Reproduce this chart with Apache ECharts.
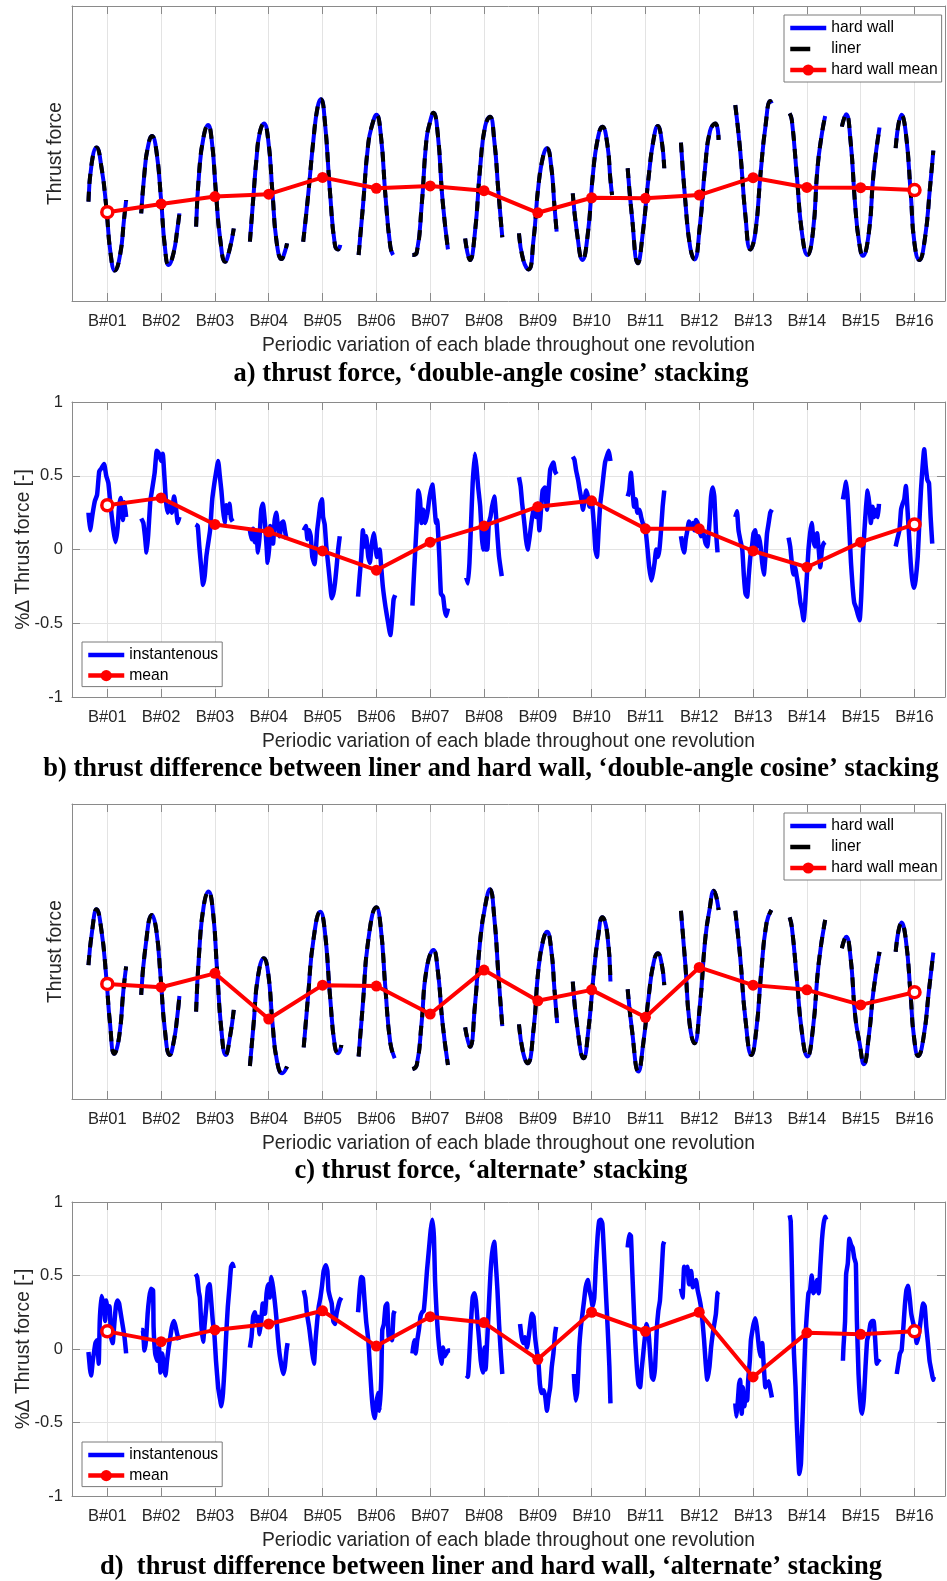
<!DOCTYPE html>
<html>
<head>
<meta charset="utf-8">
<title>Thrust force per blade</title>
<script src="https://cdn.jsdelivr.net/npm/echarts@6.0.0/dist/echarts.min.js"></script>
<style>
  html, body { margin: 0; padding: 0; background: #fff; }
  #chart { width: 947px; height: 1581px; }
</style>
</head>
<body>
<div id="chart"></div>
<script>
// blade tick labels
const blades = ['B#01', 'B#02', 'B#03', 'B#04', 'B#05', 'B#06', 'B#07', 'B#08',
  'B#09', 'B#10', 'B#11', 'B#12', 'B#13', 'B#14', 'B#15', 'B#16'];

// each blade: [phase offset from the blade tick, values]
// a) thrust force, double-angle cosine stacking (arbitrary units 0-100)
const hardWallA = [
  [[-0.35, -0.29, -0.20, -0.11, -0.02, 0.06, 0.14, 0.24, 0.31, 0.35], [33.7, 46.7, 52.0, 45.5, 32.0, 16.2, 10.3, 15.9, 27.5, 34.2]],
  [[-0.37, -0.31, -0.25, -0.17, -0.09, 0, 0.07, 0.14, 0.23, 0.30, 0.34], [29.7, 43.3, 51.8, 55.9, 51.2, 34.2, 18.4, 12.2, 16.2, 24.1, 29.7]],
  [[-0.35, -0.29, -0.21, -0.13, -0.06, 0.02, 0.10, 0.19, 0.27, 0.35], [25.2, 44.4, 55.7, 59.7, 54.6, 36.5, 20.7, 13.3, 17.3, 24.6]],
  [[-0.35, -0.29, -0.23, -0.17, -0.09, -0.01, 0.07, 0.15, 0.24, 0.30, 0.34], [20.1, 34.2, 47.8, 56.8, 60.2, 54.6, 36.5, 19.5, 14.2, 16.7, 19.5]],
  [[-0.36, -0.27, -0.17, -0.09, -0.03, 0.04, 0.14, 0.23, 0.29, 0.33], [20.1, 35.4, 54.6, 65.9, 68.4, 61.4, 36.5, 19.0, 17.5, 19.0]],
  [[-0.33, -0.25, -0.15, -0.07, 0, 0.08, 0.17, 0.26, 0.31], [15.6, 32.0, 53.4, 60.2, 63.1, 56.8, 35.4, 18.4, 15.6]],
  [[-0.33, -0.25, -0.16, -0.07, -0.01, 0.06, 0.14, 0.23, 0.33], [15.6, 16.4, 32.0, 54.6, 60.2, 63.8, 56.8, 34.2, 17.5]],
  [[-0.35, -0.26, -0.17, -0.07, 0.02, 0.11, 0.19, 0.27, 0.34], [21.2, 13.9, 22.9, 45.5, 59.1, 62.5, 54.6, 36.5, 21.6]],
  [[-0.35, -0.27, -0.17, -0.08, 0.01, 0.10, 0.17, 0.25, 0.31, 0.35], [22.9, 13.9, 10.7, 20.7, 38.8, 49.2, 51.8, 45.5, 32.0, 23.5]],
  [[-0.35, -0.27, -0.17, -0.07, 0.02, 0.11, 0.20, 0.29, 0.35, 0.38], [36.5, 22.9, 13.9, 22.9, 42.1, 54.6, 59.1, 53.4, 41.0, 35.9]],
  [[-0.33, -0.25, -0.14, -0.05, 0.06, 0.15, 0.23, 0.30, 0.35], [45.0, 28.6, 12.8, 22.9, 42.1, 54.6, 59.3, 54.6, 45.0]],
  [[-0.34, -0.26, -0.17, -0.09, 0.01, 0.11, 0.20, 0.30, 0.36], [53.7, 34.2, 18.4, 14.1, 25.2, 45.5, 57.6, 60.2, 54.6]],
  [[-0.33, -0.24, -0.14, -0.05, 0.04, 0.14, 0.23, 0.32, 0.35], [66.4, 51.2, 28.6, 17.5, 22.9, 43.3, 59.1, 67.8, 67.0]],
  [[-0.32, -0.28, -0.19, -0.09, 0.01, 0.11, 0.20, 0.28, 0.34], [63.6, 61.4, 43.3, 22.9, 15.6, 22.9, 45.5, 56.8, 62.7]],
  [[-0.35, -0.27, -0.19, -0.10, -0.03, 0.04, 0.15, 0.24, 0.35], [59.1, 63.3, 54.6, 32.0, 20.1, 15.3, 22.9, 43.3, 58.8]],
  [[-0.35, -0.24, -0.16, -0.07, 0, 0.09, 0.19, 0.29, 0.35], [51.8, 63.1, 56.8, 36.5, 19.5, 13.9, 20.7, 38.8, 51.0]]
];
const linerA = hardWallA; // liner trace sits on the hard wall trace at this scale
const meanA = [30.1, 32.9, 35.4, 36.2, 41.9, 38.2, 39.0, 37.4, 29.9, 35.0, 34.8, 35.9, 41.8, 38.5, 38.4, 37.6];

// b) % difference liner vs hard wall, double-angle cosine stacking
const instB = [
  [[-0.35, -0.32, -0.27, -0.23, -0.19, -0.15, -0.11, -0.06, -0.02, 0.02, 0.06, 0.11, 0.15, 0.19, 0.22, 0.25, 0.29, 0.32, 0.35],
   [0.25, 0.13, 0.25, 0.33, 0.37, 0.53, 0.55, 0.58, 0.5, 0.45, 0.3, 0.14, 0.05, 0.14, 0.3, 0.35, 0.2, 0.32, 0.22]],
  [[-0.37, -0.33, -0.30, -0.27, -0.24, -0.20, -0.17, -0.12, -0.08, -0.04, 0, 0.03, 0.06, 0.09, 0.12, 0.17, 0.20, 0.24, 0.28, 0.31, 0.34],
   [0.21, 0.18, 0.09, -0.02, 0.1, 0.33, 0.4, 0.52, 0.67, 0.65, 0.6, 0.65, 0.5, 0.33, 0.25, 0.3, 0.25, 0.36, 0.27, 0.18, 0.22]],
  [[-0.36, -0.32, -0.29, -0.25, -0.22, -0.19, -0.16, -0.13, -0.09, -0.05, -0.01, 0.02, 0.06, 0.09, 0.12, 0.15, 0.18, 0.21, 0.24, 0.27, 0.30, 0.33],
   [0.17, 0.16, 0.02, -0.14, -0.24, -0.18, -0.05, 0.03, 0.13, 0.34, 0.45, 0.52, 0.6, 0.5, 0.4, 0.27, 0.18, 0.3, 0.25, 0.31, 0.21, 0.19]],
  [[-0.35, -0.32, -0.29, -0.26, -0.23, -0.20, -0.17, -0.14, -0.11, -0.07, -0.04, -0.02, 0.01, 0.03, 0.06, 0.08, 0.11, 0.14, 0.17, 0.20, 0.24, 0.27, 0.30, 0.33],
   [0.13, 0.07, 0.14, 0.05, 0.11, -0.02, 0.09, 0.27, 0.31, 0.18, 0.02, -0.09, 0.02, 0.16, 0.11, 0.04, 0.2, 0.25, 0.16, 0.09, 0.18, 0.19, 0.13, 0.07]],
  [[-0.35, -0.31, -0.28, -0.25, -0.22, -0.19, -0.15, -0.12, -0.10, -0.07, -0.04, -0.01, 0.01, 0.04, 0.07, 0.11, 0.14, 0.17, 0.20, 0.23, 0.26, 0.29, 0.32],
   [0.13, 0.16, 0.07, 0.13, 0.09, -0.05, -0.1, 0.02, 0.13, 0.22, 0.31, 0.34, 0.22, 0.17, 0.02, -0.12, -0.23, -0.33, -0.3, -0.23, -0.12, 0.0, 0.09]],
  [[-0.34, -0.31, -0.28, -0.25, -0.22, -0.19, -0.15, -0.12, -0.09, -0.05, -0.02, 0.01, 0.06, 0.09, 0.12, 0.17, 0.22, 0.26, 0.29, 0.32, 0.35],
   [-0.32, -0.18, -0.05, 0.13, 0.02, 0.09, -0.05, -0.09, 0.02, 0.11, 0.04, -0.05, 0.0, -0.12, -0.25, -0.39, -0.5, -0.58, -0.48, -0.34, -0.31]],
  [[-0.33, -0.30, -0.25, -0.22, -0.19, -0.16, -0.13, -0.09, -0.05, -0.01, 0.04, 0.07, 0.11, 0.13, 0.17, 0.20, 0.24, 0.27, 0.30, 0.33],
   [-0.38, -0.16, 0.18, 0.4, 0.34, 0.18, 0.27, 0.18, 0.25, 0.36, 0.44, 0.34, 0.18, 0.2, -0.05, -0.3, -0.32, -0.41, -0.45, -0.4]],
  [[-0.33, -0.30, -0.27, -0.24, -0.21, -0.17, -0.14, -0.11, -0.07, -0.04, -0.02, 0, 0.03, 0.06, 0.09, 0.12, 0.15, 0.19, 0.22, 0.25, 0.28, 0.33],
   [-0.19, -0.23, -0.09, 0.18, 0.45, 0.65, 0.56, 0.43, 0.29, 0.09, 0.0, 0.16, 0.0, 0.0, 0.18, 0.22, 0.29, 0.36, 0.25, 0.09, -0.05, -0.18]],
  [[-0.35, -0.32, -0.29, -0.25, -0.22, -0.19, -0.15, -0.12, -0.09, -0.06, -0.03, 0, 0.03, 0.06, 0.09, 0.13, 0.17, 0.20, 0.23, 0.26, 0.29, 0.32, 0.35],
   [0.49, 0.43, 0.31, 0.18, 0.07, 0.0, 0.09, 0.18, 0.25, 0.29, 0.22, 0.31, 0.13, 0.27, 0.4, 0.42, 0.27, 0.4, 0.54, 0.57, 0.59, 0.53, 0.51]],
  [[-0.35, -0.32, -0.29, -0.25, -0.22, -0.19, -0.16, -0.13, -0.10, -0.07, -0.04, 0, 0.04, 0.07, 0.10, 0.13, 0.16, 0.19, 0.22, 0.25, 0.29, 0.32, 0.35],
   [0.63, 0.61, 0.54, 0.47, 0.4, 0.34, 0.27, 0.34, 0.4, 0.36, 0.29, 0.33, 0.18, 0.0, -0.05, 0.13, 0.31, 0.4, 0.5, 0.59, 0.64, 0.67, 0.6]],
  [[-0.33, -0.30, -0.27, -0.24, -0.21, -0.18, -0.15, -0.11, -0.08, -0.05, -0.02, 0.01, 0.04, 0.07, 0.11, 0.14, 0.17, 0.20, 0.23, 0.26, 0.29, 0.32, 0.35],
   [0.36, 0.4, 0.52, 0.4, 0.29, 0.34, 0.25, 0.27, 0.22, 0.18, 0.16, 0.11, 0.0, -0.12, -0.21, -0.16, -0.09, 0.0, -0.05, 0.0, 0.13, 0.29, 0.4]],
  [[-0.34, -0.31, -0.28, -0.25, -0.22, -0.19, -0.15, -0.12, -0.09, -0.06, -0.03, 0, 0.03, 0.06, 0.09, 0.12, 0.15, 0.19, 0.22, 0.25, 0.28, 0.31, 0.34],
   [0.09, 0.02, -0.02, 0.07, 0.13, 0.19, 0.16, 0.18, 0.13, 0.2, 0.18, 0.13, 0.09, 0.13, 0.09, 0.04, 0.02, 0.18, 0.36, 0.42, 0.36, 0.13, -0.02]],
  [[-0.33, -0.30, -0.27, -0.24, -0.20, -0.17, -0.14, -0.11, -0.08, -0.05, -0.02, 0.01, 0.04, 0.07, 0.11, 0.14, 0.17, 0.20, 0.23, 0.26, 0.29, 0.32, 0.35],
   [0.22, 0.26, 0.13, 0.07, 0.0, -0.18, -0.3, -0.32, -0.18, -0.05, 0.02, 0.11, 0.13, 0.02, 0.09, 0.02, -0.09, -0.17, -0.05, 0.11, 0.18, 0.25, 0.27]],
  [[-0.34, -0.31, -0.28, -0.25, -0.22, -0.19, -0.15, -0.12, -0.09, -0.06, -0.03, 0, 0.03, 0.06, 0.09, 0.12, 0.15, 0.19, 0.22, 0.25, 0.28, 0.31, 0.34],
   [0.08, 0.02, -0.09, -0.17, -0.12, -0.18, -0.27, -0.36, -0.41, -0.48, -0.36, -0.18, 0.0, 0.11, 0.18, 0.07, 0.02, 0.11, 0.0, -0.12, 0.0, 0.04, 0.05]],
  [[-0.33, -0.30, -0.27, -0.24, -0.21, -0.18, -0.15, -0.12, -0.09, -0.06, -0.02, 0.01, 0.04, 0.07, 0.10, 0.13, 0.16, 0.19, 0.22, 0.25, 0.29, 0.32, 0.34],
   [0.34, 0.4, 0.46, 0.34, 0.13, -0.09, -0.25, -0.36, -0.39, -0.43, -0.48, -0.32, -0.05, 0.13, 0.29, 0.4, 0.31, 0.18, 0.29, 0.22, 0.27, 0.22, 0.31]],
  [[-0.35, -0.32, -0.28, -0.25, -0.22, -0.19, -0.16, -0.13, -0.10, -0.07, -0.04, -0.01, 0.02, 0.06, 0.09, 0.12, 0.15, 0.18, 0.21, 0.24, 0.27, 0.30, 0.33],
   [0.02, 0.07, 0.13, 0.27, 0.31, 0.34, 0.43, 0.27, 0.09, -0.09, -0.21, -0.26, -0.21, -0.05, 0.18, 0.4, 0.56, 0.68, 0.56, 0.47, 0.45, 0.22, 0.04]]
];
const meanB = [0.30, 0.35, 0.17, 0.12, -0.01, -0.14, 0.05, 0.16, 0.29, 0.33, 0.14, 0.14, -0.01, -0.12, 0.05, 0.17];

// c) thrust force, alternate stacking (arbitrary units 0-100)
const hardWallC = [
  [[-0.35, -0.28, -0.20, -0.11, -0.02, 0.05, 0.13, 0.22, 0.30, 0.35], [45.4, 57.3, 64.3, 57.3, 41.5, 25.7, 15.3, 21.1, 37.0, 44.9]],
  [[-0.37, -0.29, -0.17, -0.09, -0.01, 0.07, 0.16, 0.24, 0.30, 0.34], [35.3, 51.6, 62.4, 57.3, 41.5, 23.4, 14.9, 20.0, 27.9, 34.9]],
  [[-0.35, -0.29, -0.21, -0.12, -0.04, 0.04, 0.12, 0.20, 0.28, 0.35], [29.6, 50.5, 65.2, 70.3, 64.1, 43.7, 23.4, 14.9, 21.1, 30.2]],
  [[-0.35, -0.28, -0.20, -0.09, -0.01, 0.07, 0.15, 0.25, 0.34], [11.2, 25.7, 41.5, 47.7, 42.6, 25.7, 13.2, 8.7, 11.0]],
  [[-0.35, -0.27, -0.17, -0.04, 0.04, 0.14, 0.23, 0.29, 0.35], [17.5, 34.7, 53.9, 63.5, 57.3, 34.7, 17.7, 15.5, 18.3]],
  [[-0.33, -0.25, -0.15, 0, 0.08, 0.17, 0.26, 0.34], [14.4, 32.4, 53.9, 65.0, 58.4, 37.0, 18.9, 13.8]],
  [[-0.33, -0.25, -0.16, -0.07, 0.06, 0.14, 0.23, 0.33], [10.1, 11.5, 25.7, 43.7, 50.5, 43.7, 25.7, 11.5]],
  [[-0.35, -0.26, -0.17, -0.07, 0.02, 0.11, 0.19, 0.27, 0.34], [24.3, 17.7, 31.3, 53.9, 65.2, 71.1, 61.8, 41.5, 24.7]],
  [[-0.35, -0.27, -0.19, -0.08, 0.01, 0.10, 0.17, 0.25, 0.31, 0.36], [25.3, 15.5, 12.1, 23.4, 43.7, 53.9, 56.7, 50.5, 37.0, 25.7]],
  [[-0.35, -0.26, -0.15, -0.06, 0.04, 0.12, 0.20, 0.29, 0.35], [39.8, 23.4, 13.8, 23.4, 42.6, 55.0, 61.6, 56.2, 39.8]],
  [[-0.33, -0.25, -0.13, -0.04, 0.06, 0.15, 0.23, 0.30, 0.35], [37.2, 23.4, 9.3, 18.9, 34.7, 46.0, 49.4, 46.0, 38.6]],
  [[-0.34, -0.26, -0.18, -0.09, 0.01, 0.11, 0.19, 0.27, 0.36], [63.8, 46.0, 25.7, 18.9, 31.3, 53.9, 64.1, 70.6, 64.1]],
  [[-0.33, -0.24, -0.14, -0.03, 0.06, 0.15, 0.25, 0.34], [63.8, 48.3, 26.8, 14.9, 23.4, 42.6, 59.6, 64.1]],
  [[-0.32, -0.28, -0.19, -0.09, 0.01, 0.11, 0.22, 0.34], [61.6, 58.4, 41.5, 22.3, 14.4, 23.4, 46.0, 60.7]],
  [[-0.35, -0.27, -0.19, -0.10, -0.02, 0.06, 0.15, 0.24, 0.35], [51.1, 55.0, 48.3, 27.9, 18.9, 11.8, 21.1, 37.0, 49.9]],
  [[-0.35, -0.24, -0.16, -0.07, -0.01, 0.07, 0.17, 0.27, 0.35], [49.9, 59.8, 53.9, 34.7, 21.1, 14.6, 21.1, 37.0, 49.6]]
];
const linerC = hardWallC;
const meanC = [39.0, 37.9, 42.6, 27.1, 38.6, 38.3, 28.8, 43.7, 33.3, 37.0, 27.7, 44.6, 38.6, 37.0, 31.9, 36.2];

// d) % difference liner vs hard wall, alternate stacking
const instD = [
  [[-0.35, -0.32, -0.30, -0.27, -0.25, -0.22, -0.19, -0.16, -0.14, -0.11, -0.07, -0.04, -0.02, 0.01, 0.04, 0.07, 0.10, 0.13, 0.16, 0.19, 0.22, 0.25, 0.29, 0.32, 0.35],
   [-0.02, -0.14, -0.18, -0.08, -0.03, 0.04, 0.06, -0.1, 0.19, 0.36, 0.31, 0.19, 0.33, 0.26, 0.29, 0.08, 0.04, 0.17, 0.29, 0.33, 0.31, 0.24, 0.15, 0.08, -0.03]],
  [[-0.37, -0.34, -0.31, -0.28, -0.25, -0.22, -0.19, -0.15, -0.14, -0.11, -0.07, -0.04, -0.01, 0.02, 0.05, 0.08, 0.11, 0.14, 0.17, 0.20, 0.24, 0.27, 0.30, 0.33],
   [0.13, 0.13, -0.01, 0.06, 0.24, 0.35, 0.41, 0.4, 0.15, -0.03, -0.08, 0.01, -0.16, -0.03, -0.12, -0.18, -0.08, 0.01, 0.08, 0.15, 0.19, 0.15, 0.1, 0.06]],
  [[-0.36, -0.33, -0.30, -0.28, -0.25, -0.22, -0.19, -0.16, -0.13, -0.10, -0.07, -0.04, -0.01, 0.02, 0.06, 0.09, 0.12, 0.15, 0.18, 0.21, 0.24, 0.27, 0.30, 0.33, 0.35],
   [0.51, 0.49, 0.39, 0.35, 0.15, 0.05, 0.17, 0.29, 0.42, 0.44, 0.33, 0.19, 0.1, -0.08, -0.26, -0.33, -0.39, -0.3, -0.12, 0.1, 0.29, 0.42, 0.56, 0.58, 0.55]],
  [[-0.35, -0.32, -0.29, -0.26, -0.23, -0.20, -0.17, -0.14, -0.11, -0.07, -0.04, -0.01, 0.02, 0.05, 0.08, 0.11, 0.14, 0.17, 0.20, 0.24, 0.27, 0.30, 0.33, 0.35],
   [0.01, 0.08, 0.22, 0.25, 0.19, 0.22, 0.1, 0.19, 0.31, 0.24, 0.38, 0.44, 0.35, 0.49, 0.42, 0.33, 0.22, 0.08, -0.03, -0.12, -0.17, -0.12, -0.01, 0.04]],
  [[-0.35, -0.32, -0.29, -0.25, -0.22, -0.19, -0.16, -0.13, -0.10, -0.07, -0.04, -0.01, 0.02, 0.06, 0.09, 0.11, 0.14, 0.17, 0.20, 0.23, 0.26, 0.29, 0.32, 0.35],
   [0.4, 0.35, 0.24, 0.15, 0.06, -0.03, -0.1, 0.06, 0.19, 0.29, 0.35, 0.43, 0.53, 0.57, 0.53, 0.4, 0.35, 0.31, 0.19, 0.17, 0.24, 0.29, 0.33, 0.35]],
  [[-0.34, -0.31, -0.28, -0.25, -0.22, -0.19, -0.15, -0.12, -0.09, -0.06, -0.03, 0, 0.03, 0.06, 0.09, 0.11, 0.14, 0.17, 0.20, 0.23, 0.26, 0.29, 0.32, 0.34],
   [0.25, 0.4, 0.49, 0.48, 0.33, 0.19, 0.06, -0.12, -0.3, -0.42, -0.47, -0.37, -0.3, -0.42, -0.21, 0.13, 0.17, 0.29, 0.31, 0.08, 0.1, 0.06, 0.24, 0.26]],
  [[-0.33, -0.30, -0.27, -0.24, -0.21, -0.18, -0.15, -0.12, -0.09, -0.06, -0.02, 0.01, 0.04, 0.07, 0.09, 0.12, 0.15, 0.18, 0.21, 0.24, 0.27, 0.30, 0.33, 0.37],
   [-0.03, 0.06, -0.03, 0.06, 0.13, 0.22, 0.25, 0.26, 0.38, 0.53, 0.69, 0.81, 0.88, 0.76, 0.47, 0.24, 0.08, -0.03, -0.1, 0.01, -0.05, -0.03, -0.01, -0.01]],
  [[-0.33, -0.30, -0.27, -0.24, -0.21, -0.18, -0.15, -0.12, -0.09, -0.06, -0.02, 0.01, 0.03, 0.06, 0.09, 0.12, 0.15, 0.19, 0.22, 0.25, 0.28, 0.31, 0.34],
   [-0.18, -0.19, -0.03, 0.19, 0.35, 0.38, 0.33, 0.19, 0.06, -0.08, -0.16, 0.01, -0.14, 0.06, 0.29, 0.51, 0.65, 0.73, 0.58, 0.4, 0.17, -0.01, -0.17]],
  [[-0.33, -0.30, -0.27, -0.24, -0.20, -0.17, -0.14, -0.11, -0.08, -0.05, -0.02, 0.01, 0.04, 0.07, 0.11, 0.14, 0.17, 0.20, 0.23, 0.26, 0.29, 0.32, 0.34],
   [0.17, 0.08, 0.04, 0.08, 0.01, 0.08, 0.17, 0.24, 0.22, 0.08, -0.01, -0.08, -0.24, -0.3, -0.28, -0.33, -0.42, -0.33, -0.26, -0.12, -0.03, 0.1, 0.15]],
  [[-0.33, -0.30, -0.27, -0.25, -0.23, -0.20, -0.17, -0.14, -0.11, -0.07, -0.04, -0.01, 0.02, 0.05, 0.08, 0.11, 0.14, 0.17, 0.20, 0.24, 0.27, 0.30, 0.33, 0.35],
   [-0.17, -0.35, -0.3, -0.17, 0.01, 0.15, 0.24, 0.33, 0.42, 0.47, 0.4, 0.35, 0.29, 0.35, 0.58, 0.76, 0.87, 0.88, 0.85, 0.58, 0.35, 0.13, -0.12, -0.37]],
  [[-0.33, -0.30, -0.27, -0.25, -0.22, -0.19, -0.16, -0.13, -0.10, -0.07, -0.04, -0.01, 0.02, 0.06, 0.09, 0.12, 0.15, 0.18, 0.21, 0.24, 0.27, 0.30, 0.33, 0.35],
   [0.69, 0.78, 0.77, 0.58, 0.31, 0.06, -0.12, -0.24, -0.26, -0.14, -0.03, 0.08, 0.17, 0.1, -0.05, -0.19, -0.21, -0.12, 0.13, 0.26, 0.33, 0.51, 0.71, 0.73]],
  [[-0.34, -0.31, -0.28, -0.25, -0.22, -0.19, -0.15, -0.12, -0.09, -0.06, -0.03, 0, 0.03, 0.06, 0.09, 0.12, 0.15, 0.19, 0.22, 0.25, 0.28, 0.31, 0.34, 0.36],
   [0.41, 0.35, 0.56, 0.51, 0.56, 0.44, 0.53, 0.42, 0.44, 0.47, 0.4, 0.35, 0.29, 0.19, 0.06, -0.1, -0.21, -0.12, 0.01, 0.1, 0.17, 0.24, 0.38, 0.39]],
  [[-0.33, -0.31, -0.29, -0.26, -0.24, -0.21, -0.19, -0.16, -0.14, -0.11, -0.09, -0.06, -0.04, -0.01, 0.01, 0.04, 0.07, 0.11, 0.14, 0.17, 0.20, 0.23, 0.26, 0.29, 0.32, 0.35],
   [-0.37, -0.46, -0.39, -0.24, -0.21, -0.44, -0.26, -0.39, -0.3, -0.35, -0.21, -0.08, 0.06, 0.13, 0.17, 0.21, 0.15, 0.01, -0.05, 0.04, -0.12, -0.26, -0.24, -0.22, -0.27, -0.33]],
  [[-0.32, -0.30, -0.28, -0.26, -0.24, -0.21, -0.19, -0.16, -0.14, -0.11, -0.09, -0.06, -0.03, 0, 0.03, 0.06, 0.09, 0.12, 0.15, 0.19, 0.22, 0.25, 0.28, 0.31, 0.34, 0.36],
   [0.91, 0.87, 0.58, 0.24, -0.03, -0.26, -0.48, -0.73, -0.85, -0.78, -0.57, -0.26, 0.06, 0.24, 0.38, 0.4, 0.5, 0.38, 0.4, 0.47, 0.38, 0.56, 0.74, 0.85, 0.9, 0.88]],
  [[-0.33, -0.32, -0.29, -0.27, -0.24, -0.21, -0.18, -0.15, -0.12, -0.09, -0.07, -0.04, -0.02, 0.01, 0.03, 0.06, 0.09, 0.12, 0.15, 0.18, 0.21, 0.24, 0.27, 0.30, 0.33, 0.36],
   [-0.08, 0.01, 0.19, 0.51, 0.58, 0.75, 0.71, 0.69, 0.62, 0.58, 0.19, -0.17, -0.3, -0.42, -0.44, -0.33, -0.12, 0.06, 0.1, 0.17, 0.19, 0.19, 0.06, -0.1, -0.08, -0.09]],
  [[-0.33, -0.30, -0.27, -0.24, -0.21, -0.18, -0.15, -0.12, -0.09, -0.06, -0.02, 0.01, 0.04, 0.07, 0.10, 0.13, 0.16, 0.19, 0.22, 0.25, 0.28, 0.31, 0.35, 0.36],
   [-0.17, -0.1, -0.03, -0.01, 0.13, 0.29, 0.4, 0.43, 0.35, 0.24, 0.17, 0.13, 0.04, 0.08, 0.15, 0.24, 0.31, 0.29, 0.15, 0.04, -0.08, -0.14, -0.21, -0.19]]
];
const meanD = [0.12, 0.05, 0.13, 0.17, 0.26, 0.02, 0.22, 0.18, -0.07, 0.25, 0.12, 0.25, -0.19, 0.11, 0.10, 0.12];

const captions = [
  'a) thrust force, \u2018double-angle cosine\u2019 stacking',
  'b) thrust difference between liner and hard wall, \u2018double-angle cosine\u2019 stacking',
  'c) thrust force, \u2018alternate\u2019 stacking',
  'd)  thrust difference between liner and hard wall, \u2018alternate\u2019 stacking'
];

// ---- layout / style ----
const FONT = '"Liberation Sans", Arial, sans-serif';
const BLUE = '#0000ff', RED = '#ff0000', BLACK = '#000000';
const AXIS_C = '#8a8a8a', GRID_C = '#e3e3e3', TEXT_C = '#262626';
const X_MIN = 0.344, X_MAX = 16.567;
const TICKS = blades.map((_, i) => i + 1);
const X_NAME = 'Periodic variation of each blade throughout one revolution';
const panels = [
  { top: 6, height: 295, captionY: 374 },
  { top: 402, height: 295, captionY: 769 },
  { top: 804, height: 295, captionY: 1171 },
  { top: 1202, height: 294, captionY: 1567 }
];

function curve(segs) {
  const out = [];
  segs.forEach((seg, i) => {
    seg[0].forEach((d, k) => out.push([i + 1 + d, seg[1][k]]));
    out.push([i + 1.5, null]); // break between blades
  });
  return out;
}

function meanData(vals) {
  return vals.map((v, i) => {
    const item = { value: [i + 1, v] };
    if (i === 0 || i === vals.length - 1) {
      item.itemStyle = { color: '#ffffff', borderColor: RED, borderWidth: 3.5 };
    }
    return item;
  });
}

const lineAx = { show: true, onZero: false, lineStyle: { color: AXIS_C, width: 1 } };
const labelFont = { fontSize: 16.5, color: TEXT_C, fontFamily: FONT };
const nameFont = { fontSize: 19.3, color: TEXT_C, fontFamily: FONT };

const xAxis = [], yAxis = [];
panels.forEach((p, g) => {
  const diff = g % 2 === 1;
  xAxis.push({
    type: 'value', gridIndex: g, position: 'bottom', min: X_MIN, max: X_MAX,
    name: X_NAME, nameLocation: 'middle', nameGap: 35, nameTextStyle: nameFont, nameMoveOverlap: false,
    axisLine: lineAx,
    axisTick: { show: true, inside: true, length: 8, customValues: TICKS, lineStyle: { color: AXIS_C } },
    axisLabel: Object.assign({ customValues: TICKS, margin: 12, formatter: v => blades[Math.round(v) - 1] }, labelFont),
    splitLine: { show: true, lineStyle: { color: GRID_C, width: 1 } }
  });
  xAxis.push({
    type: 'value', gridIndex: g, position: 'top', min: X_MIN, max: X_MAX,
    axisLine: lineAx,
    axisTick: { show: true, inside: true, length: 8, customValues: TICKS, lineStyle: { color: AXIS_C } },
    axisLabel: { show: false }, splitLine: { show: false }
  });
  if (diff) {
    yAxis.push({
      type: 'value', gridIndex: g, position: 'left', min: -1, max: 1, interval: 0.5,
      name: '%\u0394 Thrust force [-]', nameLocation: 'middle', nameGap: 39, nameTextStyle: nameFont, nameMoveOverlap: false,
      axisLine: lineAx,
      axisTick: { show: true, inside: true, length: 8, lineStyle: { color: AXIS_C } },
      axisLabel: Object.assign({ margin: 9 }, labelFont),
      splitLine: { show: true, lineStyle: { color: GRID_C, width: 1 } }
    });
    yAxis.push({
      type: 'value', gridIndex: g, position: 'right', min: -1, max: 1, interval: 0.5,
      axisLine: lineAx,
      axisTick: { show: true, inside: true, length: 8, lineStyle: { color: AXIS_C } },
      axisLabel: { show: false }, splitLine: { show: false }
    });
  } else {
    yAxis.push({
      type: 'value', gridIndex: g, position: 'left', min: 0, max: 100,
      name: 'Thrust force', nameLocation: 'middle', nameGap: 7, nameTextStyle: nameFont, nameMoveOverlap: false,
      axisLine: lineAx, axisTick: { show: false }, axisLabel: { show: false }, splitLine: { show: false }
    });
    yAxis.push({
      type: 'value', gridIndex: g, position: 'right', min: 0, max: 100,
      axisLine: lineAx, axisTick: { show: false }, axisLabel: { show: false }, splitLine: { show: false }
    });
  }
});

function forceSeries(g, hw, ln, mean) {
  const ax = { xAxisIndex: 2 * g, yAxisIndex: 2 * g };
  return [
    Object.assign({ name: 'hard wall', type: 'line', data: curve(hw), symbol: 'none', smooth: 0.5,
      connectNulls: false, lineStyle: { color: BLUE, width: 4 }, itemStyle: { color: BLUE }, z: 2, silent: true }, ax),
    Object.assign({ name: 'liner', type: 'line', data: curve(ln), symbol: 'none', smooth: 0.5,
      connectNulls: false, lineStyle: { color: BLACK, width: 4, type: [10, 8] }, itemStyle: { color: BLACK }, z: 3, silent: true }, ax),
    Object.assign({ name: 'hard wall mean', type: 'line', data: meanData(mean), symbol: 'circle', symbolSize: 11,
      lineStyle: { color: RED, width: 4 }, itemStyle: { color: RED }, z: 4, silent: true }, ax)
  ];
}

function diffSeries(g, inst, mean) {
  const ax = { xAxisIndex: 2 * g, yAxisIndex: 2 * g };
  return [
    Object.assign({ name: 'instantenous', type: 'line', data: curve(inst), symbol: 'none', smooth: 0.15,
      connectNulls: false, lineStyle: { color: BLUE, width: 4.5, join: 'round' }, itemStyle: { color: BLUE }, z: 2, silent: true }, ax),
    Object.assign({ name: 'mean', type: 'line', data: meanData(mean), symbol: 'circle', symbolSize: 11,
      lineStyle: { color: RED, width: 4 }, itemStyle: { color: RED }, z: 4, silent: true }, ax)
  ];
}

const legendText = { fontSize: 15.7, color: '#000', fontFamily: FONT };
const legendBase = {
  orient: 'vertical', itemWidth: 36, itemHeight: 14, itemGap: 5,
  padding: [5, 4, 4, 4], borderColor: '#7a7a7a', borderWidth: 1, borderRadius: 0,
  backgroundColor: '#ffffff', selectedMode: false,
  lineStyle: { width: 4.5 },
  textStyle: legendText
};
const hideMark = { opacity: 0 };
const forceLegend = [
  { name: 'hard wall', itemStyle: hideMark },
  { name: 'liner', itemStyle: hideMark, lineStyle: { type: [20, 20], width: 4.5 } },
  { name: 'hard wall mean', itemStyle: { color: RED } }
];
const diffLegend = [
  { name: 'instantenous', itemStyle: hideMark },
  { name: 'mean', itemStyle: { color: RED } }
];

const option = {
  animation: false,
  backgroundColor: '#ffffff',
  grid: panels.map(p => ({ left: 72, width: 873, top: p.top, height: p.height, containLabel: false, outerBoundsMode: 'none' })),
  xAxis: xAxis,
  yAxis: yAxis,
  legend: [
    Object.assign({}, legendBase, { data: forceLegend, left: 784, top: 15 }),
    Object.assign({}, legendBase, { data: diffLegend, left: 82, top: 642, itemGap: 4.6, padding: [5, 4, 3, 4] }),
    Object.assign({}, legendBase, { data: forceLegend, left: 784, top: 813 }),
    Object.assign({}, legendBase, { data: diffLegend, left: 82, top: 1442, itemGap: 4.6, padding: [5, 4, 3, 4] })
  ],
  graphic: captions.map((t, i) => ({
    type: 'text', x: 491, y: panels[i].captionY, silent: true,
    style: {
      text: t, fill: '#000', fontSize: 26.5, fontWeight: 'bold', fontFamily: '"Liberation Serif", "Times New Roman", serif',
      textAlign: 'center', textVerticalAlign: 'middle', align: 'center', verticalAlign: 'middle'
    }
  })),
  series: [].concat(
    forceSeries(0, hardWallA, linerA, meanA),
    diffSeries(1, instB, meanB),
    forceSeries(2, hardWallC, linerC, meanC),
    diffSeries(3, instD, meanD)
  )
};

const myChart = echarts.init(document.getElementById('chart'));
myChart.setOption(option);
</script>
</body>
</html>
